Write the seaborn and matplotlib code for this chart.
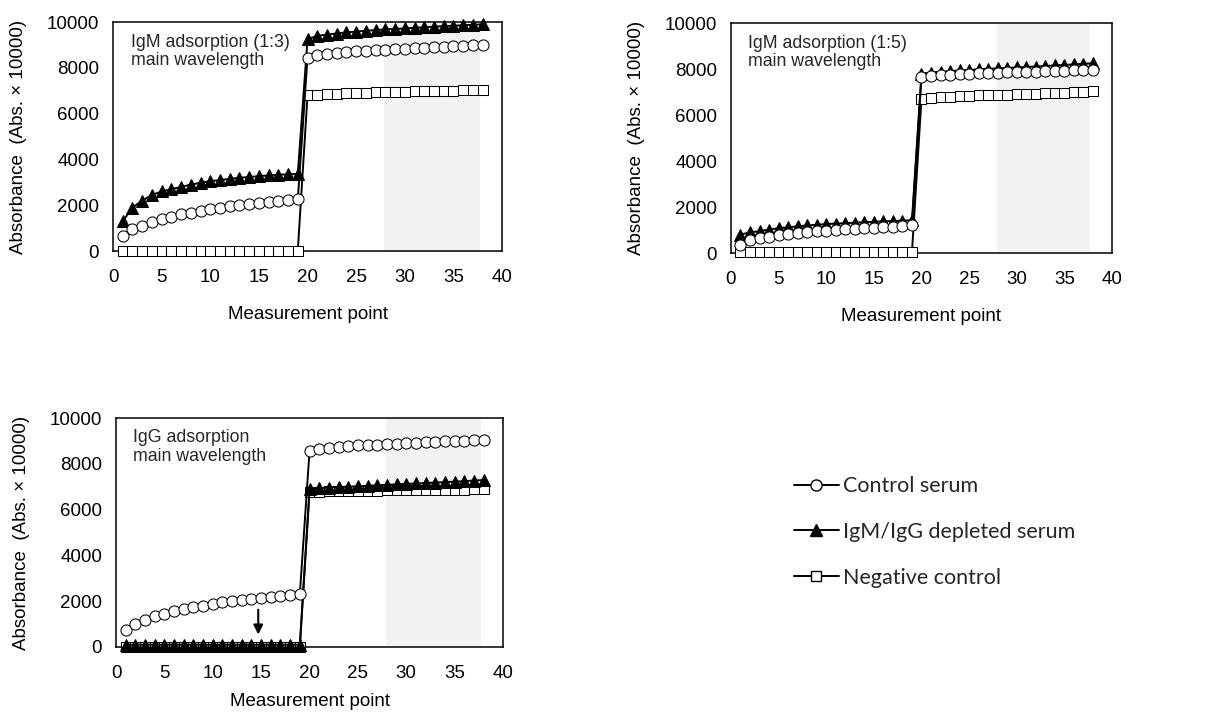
import numpy as np
import pandas as pd
import seaborn as sns
import matplotlib.pyplot as plt
from matplotlib.lines import Line2D

# 1. 数据
points = list(range(1, 39))

# IgM adsorption (1:3)
igm3_control = [650, 950, 1100, 1250, 1400, 1500, 1600, 1680, 1750, 1830, 1900, 1950, 2000,
                2050, 2100, 2150, 2200, 2220, 2270,
                8450, 8550, 8600, 8650, 8680, 8720, 8750, 8780, 8800, 8820, 8840, 8860, 8880,
                8900, 8920, 8940, 8960, 8980, 9000]
igm3_depleted = [1300, 1900, 2200, 2450, 2600, 2700, 2800, 2900, 2980, 3050, 3100, 3150, 3200,
                 3230, 3270, 3300, 3330, 3350, 3370,
                 9250, 9400, 9450, 9500, 9550, 9580, 9620, 9650, 9680, 9700, 9720, 9750, 9770,
                 9800, 9820, 9840, 9860, 9880, 9900]
igm3_negative = [20] * 19 + [6800, 6830, 6850, 6870, 6890, 6900, 6920, 6930, 6940, 6950, 6960,
                             6970, 6980, 6990, 7000, 7010, 7020, 7040, 7050]

# IgM adsorption (1:5)
igm5_control = [360, 550, 650, 700, 770, 830, 870, 910, 940, 970, 1000, 1030, 1060, 1080,
                1100, 1130, 1150, 1170, 1200,
                7650, 7700, 7730, 7760, 7780, 7800, 7820, 7830, 7850, 7860, 7870, 7880, 7890,
                7900, 7920, 7930, 7940, 7950, 7970]
igm5_depleted = [800, 900, 950, 1020, 1080, 1120, 1160, 1200, 1230, 1260, 1280, 1300, 1320,
                 1340, 1360, 1380, 1390, 1410, 1420,
                 7800, 7850, 7880, 7910, 7940, 7960, 7990, 8010, 8030, 8050, 8070, 8090, 8110,
                 8130, 8160, 8180, 8200, 8230, 8250]
igm5_negative = [30] * 19 + [6710, 6750, 6780, 6800, 6820, 6830, 6850, 6860, 6870, 6880, 6900,
                             6910, 6920, 6940, 6950, 6970, 6990, 7010, 7030]

# IgG adsorption
igg_control = [730, 1020, 1190, 1340, 1440, 1550, 1650, 1730, 1800, 1870, 1950, 2000, 2060,
               2100, 2130, 2180, 2230, 2260, 2310,
               8550, 8660, 8710, 8740, 8770, 8800, 8820, 8840, 8860, 8880, 8900, 8920, 8940,
               8960, 8980, 8990, 9000, 9020, 9030]
igg_depleted = [100] * 19 + [6900, 6940, 6960, 6980, 7000, 7020, 7040, 7060, 7080, 7100, 7120,
                             7140, 7160, 7180, 7200, 7220, 7240, 7270, 7290]
igg_negative = [0] * 19 + [6780, 6790, 6800, 6810, 6810, 6820, 6830, 6830, 6840, 6840, 6850,
                           6850, 6860, 6860, 6870, 6870, 6870, 6880, 6880]

panel_titles = ["IgM adsorption (1:3)\nmain wavelength",
                "IgM adsorption (1:5)\nmain wavelength",
                "IgG adsorption\nmain wavelength"]
series_labels = ["Control serum", "IgM/IgG depleted serum", "Negative control"]

# 2. 样式
sns.set_theme(style="white")
plt.rcParams['font.family'] = ['Liberation Sans', 'DejaVu Sans']

marker_styles = [
    dict(marker="o", markerfacecolor="white", markeredgecolor="black", markersize=8),
    dict(marker="^", markerfacecolor="black", markeredgecolor="black", markersize=8),
    dict(marker="s", markerfacecolor="white", markeredgecolor="black", markersize=7.5),
]

fig = plt.figure(figsize=(12.1, 7.16), dpi=100)
axes_pos = [
    [0.0934, 0.6494, 0.3215, 0.3198],
    [0.6041, 0.6466, 0.3149, 0.3212],
    [0.0959, 0.0964, 0.3198, 0.3198],
]
panels = [
    (igm3_control, igm3_depleted, igm3_negative),
    (igm5_control, igm5_depleted, igm5_negative),
    (igg_control, igg_depleted, igg_negative),
]
xlabel_pads = [14, 14, 8]
fs = 13.5

for pos, title, data, xpad in zip(axes_pos, panel_titles, panels, xlabel_pads):
    ax = fig.add_axes(pos)
    ax.axvspan(27.9, 37.7, color="#f2f2f2", zorder=0, lw=0)
    # 先画阴性对照，最后画对照血清
    for values, style in reversed(list(zip(data, marker_styles))):
        sns.lineplot(x=points, y=values, ax=ax, color="black", linewidth=1.4,
                     clip_on=False, zorder=3, **style)
    ax.set_xlim(0, 40)
    ax.set_ylim(0, 10000)
    ax.set_xticks(range(0, 41, 5))
    ax.set_yticks(range(0, 10001, 2000))
    ax.tick_params(length=0, labelsize=fs, colors="black")
    ax.tick_params(axis="x", pad=13)
    ax.tick_params(axis="y", pad=10)
    for sp in ax.spines.values():
        sp.set_color("black")
        sp.set_linewidth(1.1)
    ax.set_xlabel("Measurement point", fontsize=fs, labelpad=xpad, color="black")
    ax.set_ylabel("Absorbance  (Abs. \u00d7 10000)", fontsize=fs, labelpad=14, color="black")
    ax.text(0.045, 0.95, title, transform=ax.transAxes, fontsize=12.8,
            va="top", ha="left", linespacing=1.1)
    if title.startswith("IgG"):
        ax.annotate("", xy=(14.7, 420), xytext=(14.7, 1750),
                    arrowprops=dict(arrowstyle="-|>", color="black", lw=1.5,
                                    mutation_scale=14))

# 3. 图例
handles = [Line2D([0], [0], color="black", linewidth=1.4, **s) for s in marker_styles]
fig.legend(handles, series_labels, loc="upper left", bbox_to_anchor=(0.64, 0.362),
           frameon=False, prop={"family": "Lato", "size": 15.5}, handlelength=2.1,
           handletextpad=0.2, labelspacing=1.2)

plt.savefig("out.png", dpi=100)
